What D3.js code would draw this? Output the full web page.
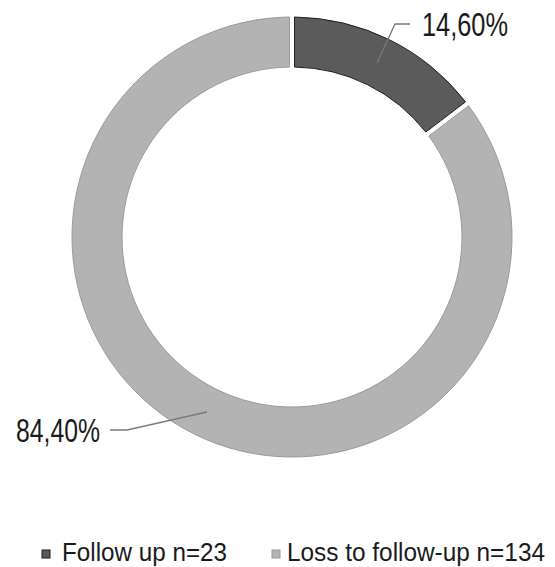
<!DOCTYPE html>
<html><head><meta charset="utf-8">
<script src="https://cdn.jsdelivr.net/npm/d3@7"></script>
<style>html,body{margin:0;padding:0;background:#fff;}</style>
</head><body>
<svg id="chart" width="555" height="567"></svg>
<script>
const categories = ["Follow up n=23", "Loss to follow-up n=134"];
const values = [23, 134];
const percentLabels = ["14,60%", "84,40%"];
const colors = ["#5b5b5b", "#b3b3b3"];
const strokes = ["#1e1e1e", "#9a9a9a"];

const svg = d3.select("#chart");
const cx = 292, cy = 237, R = 220, r = 170;
const font = "'Liberation Sans Narrow','Arial Narrow','Liberation Sans',Arial,sans-serif";

const pie = d3.pie().sort(null).value(d => d)(values);
const arc = d3.arc().innerRadius(r).outerRadius(R).padAngle(0.018);
const g = svg.append("g").attr("transform", `translate(${cx},${cy})`);
g.selectAll("path.slice").data(pie).join("path")
  .attr("class", "slice")
  .attr("d", arc)
  .attr("fill", (d, i) => colors[i])
  .attr("stroke", (d, i) => strokes[i])
  .attr("stroke-width", 1);

const leaders = [
  { pts: [[cx + 85, cy - 174], [cx + 103, cy - 213], [cx + 118, cy - 213]], tx: cx + 130, ty: cy - 201, w: 86 },
  { pts: [[cx - 85, cy + 175], [cx - 165, cy + 193], [cx - 182, cy + 193]], tx: 16, ty: cy + 205, w: 84 }
];
leaders.forEach((l, i) => {
  svg.append("path")
    .attr("d", d3.line()(l.pts))
    .attr("fill", "none").attr("stroke", "#7a7a7a").attr("stroke-width", 1.3);
  svg.append("text")
    .attr("x", l.tx).attr("y", l.ty)
    .attr("font-family", font).attr("font-size", 33)
    .attr("textLength", l.w).attr("lengthAdjust", "spacingAndGlyphs")
    .attr("fill", "#1a1a1a")
    .text(percentLabels[i]);
});

// legend
const legendX = [42, 272];
const legendTx = [62, 287];
const legendW = [165, 258];
categories.forEach((c, i) => {
  svg.append("rect").attr("x", legendX[i]).attr("y", 550).attr("width", 8).attr("height", 8)
    .attr("fill", colors[i]).attr("stroke", strokes[i]).attr("stroke-width", 1);
  svg.append("text").attr("x", legendTx[i]).attr("y", 561)
    .attr("font-family", font).attr("font-size", 25).attr("fill", "#1a1a1a")
    .attr("textLength", legendW[i]).attr("lengthAdjust", "spacingAndGlyphs")
    .text(c);
});
</script>
</body></html>
